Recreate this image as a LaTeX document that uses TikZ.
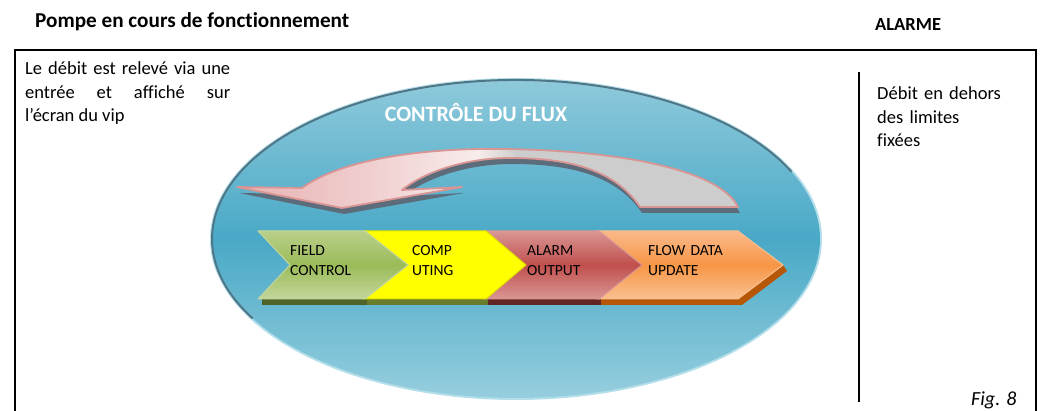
\documentclass[tikz,border=0pt]{standalone}
\usepackage{fontspec}
\setmainfont{Carlito}[Ligatures=NoCommon]
\definecolor{apink}{RGB}{232,178,178}
\definecolor{alight}{RGB}{240,206,206}
\definecolor{awhite}{RGB}{248,236,236}
\definecolor{agray}{RGB}{205,205,205}
\definecolor{aline}{RGB}{217,149,148}
\definecolor{ashadow}{RGB}{92,108,122}
\definecolor{elltop}{RGB}{142,201,219}
\definecolor{ellmid}{RGB}{73,169,199}
\definecolor{ellbot}{RGB}{150,206,222}
\definecolor{elldark}{RGB}{78,118,134}
\definecolor{ellglow}{RGB}{180,222,234}
\definecolor{gA}{RGB}{185,208,138}\definecolor{gB}{RGB}{155,187,89}\definecolor{gC}{RGB}{196,215,155}\definecolor{gS}{RGB}{79,98,40}
\definecolor{yA}{RGB}{255,255,0}\definecolor{yL}{RGB}{222,222,0}\definecolor{yS}{RGB}{104,124,44}
\definecolor{rA}{RGB}{217,150,148}\definecolor{rB}{RGB}{192,80,77}\definecolor{rS}{RGB}{99,37,35}
\definecolor{oA}{RGB}{250,185,138}\definecolor{oB}{RGB}{247,150,70}\definecolor{oC}{RGB}{250,192,144}\definecolor{oS}{RGB}{182,87,8}
\pgfdeclarehorizontalshading{arrowsh}{100bp}{color(0bp)=(apink); color(25bp)=(apink); color(38bp)=(alight); color(49bp)=(awhite); color(53bp)=(agray); color(100bp)=(agray)}
\begin{document}
\begin{tikzpicture}[x=1pt,y=1pt,
  chev/.style={line width=1pt, line join=round},
  chevtext/.style={anchor=base west, inner sep=0pt, font=\fontsize{15.5}{20}\selectfont, text width=110pt, align=left},
  bodytext/.style={anchor=base west, inner sep=0pt, font=\fontsize{18.5}{23.5}\selectfont},
  headtext/.style={anchor=base west, inner sep=0pt, font=\bfseries\fontsize{21.2}{24}\selectfont}]
\useasboundingbox (0,0) rectangle (1041,411);
% titles
\node[headtext] (title) at (35,383) {Pompe en cours de fonctionnement};
\node[headtext, font=\bfseries\fontsize{18.5}{22}\selectfont] (alarme) at (875,380) {ALARME};
% frame
\draw[line width=1.2pt] (15,0) -- (15,361) -- (1036,361) -- (1036,0);
% texts
\node[bodytext, text width=205pt, align=justify] (left) at (25,336) {Le débit est relevé via une\linebreak entrée et affiché sur\linebreak l’écran du vip};
\node[bodytext, text width=150pt, align=left] (right) at (877,311) {Débit en dehors\\des limites\\fixées};
\draw[line width=2.7pt] (859,339) -- (859,9);
\node[anchor=base west, inner sep=0pt, font=\itshape\fontsize{20}{24}\selectfont] (fig) at (971,5) {Fig. 8};
% ellipse
\draw[ellglow, line width=4pt] (516,172) ellipse [x radius=304pt, y radius=159pt];
\shade[top color=elltop, bottom color=ellbot, middle color=ellmid] (516,172) ellipse [x radius=304pt, y radius=159pt];
\draw[elldark, line width=2pt] ([shift={(25:304pt and 159pt)}]516,172) arc[start angle=25, end angle=210, x radius=304pt, y radius=159pt];
\node[inner sep=0pt, anchor=base, text=white, font=\bfseries\fontsize{22}{26}\selectfont] (ctl) at (476,289) {CONTRÔLE DU FLUX};
% curved arrow
\def\arrowpath{(342,203) -- (237,224) -- (302,223) .. controls (340,251) and (420,263) .. (500,262) .. controls (620,261) and (720,241) .. (738,204) -- (640,204) .. controls (615,241) and (570,253) .. (510,253) .. controls (460,253) and (420,236) .. (402,221) -- (462,224) -- cycle}
\fill[ashadow, shift={(2,-6)}] \arrowpath;
\shade[shading=arrowsh, draw=aline, line width=1.8pt, line join=round] \arrowpath;
% chevron shadows
\fill[gS] (262,112) -- (369,112) -- (369,106) -- (262,106) -- cycle;
\fill[yS] (367,112) -- (490,112) -- (490,106) -- (367,106) -- cycle;
\fill[rS] (488,112) -- (603,112) -- (603,106) -- (488,106) -- cycle;
\fill[oS] (601,112) -- (738,112) -- (783,146) -- (787,140) -- (742,106) -- (601,106) -- cycle;
% chevrons (right to left so left tips overlap)
\shade[chev, draw=oC, top color=oA, bottom color=oC, middle color=oB] (597,180) -- (738,180) -- (783,146) -- (738,112) -- (597,112) -- (640,146) -- cycle;
\shade[chev, draw=rA, top color=rA, bottom color=rA, middle color=rB] (484,180) -- (599,180) -- (642,146) -- (599,112) -- (484,112) -- (524,146) -- cycle;
\filldraw[chev, fill=yA, draw=yL] (363,180) -- (486,180) -- (526,146) -- (486,112) -- (363,112) -- (406,146) -- cycle;
\shade[chev, draw=gC, top color=gA, bottom color=gC, middle color=gB] (258,180) -- (365,180) -- (408,146) -- (365,112) -- (258,112) -- (290,146) -- cycle;
\node[chevtext] (c1) at (290,155) {FIELD\\CONTROL};
\node[chevtext] (c2) at (412,155) {COMP\\UTING};
\node[chevtext] (c3) at (527,155) {ALARM\\OUTPUT};
\node[chevtext] (c4) at (648,155) {FLOW DATA\\UPDATE};
\end{tikzpicture}
\end{document}
